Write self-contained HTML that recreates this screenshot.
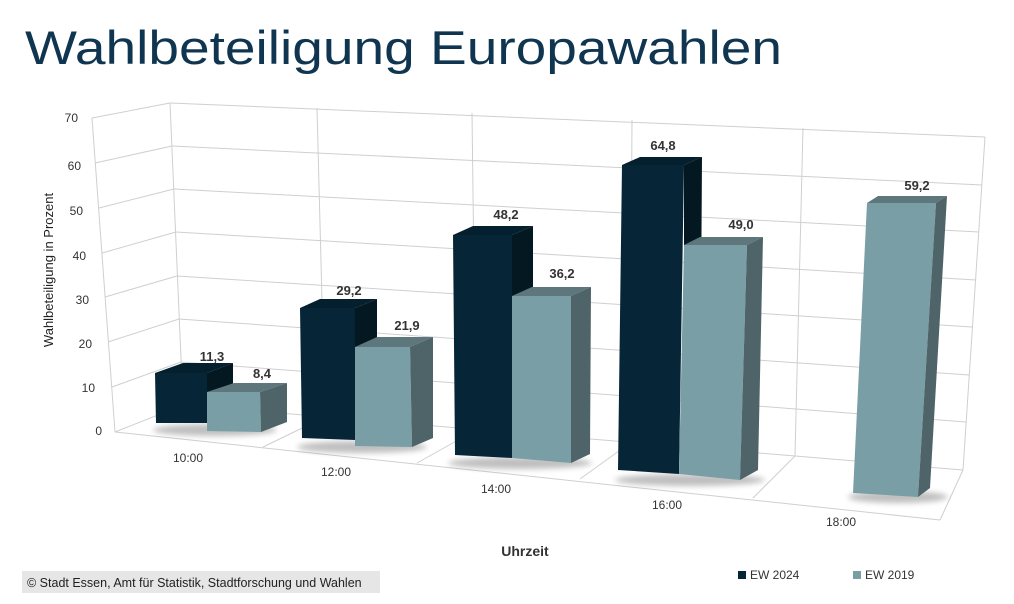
<!DOCTYPE html>
<html><head><meta charset="utf-8"><style>
html,body{margin:0;padding:0;background:#fff;width:1014px;height:604px;overflow:hidden}
svg{display:block}
text{font-family:"Liberation Sans",sans-serif}
</style></head><body>
<svg width="1014" height="604" viewBox="0 0 1014 604">
<text x="25" y="64" font-size="47" fill="#0f3550" textLength="757" lengthAdjust="spacingAndGlyphs">Wahlbeteiligung Europawahlen</text>
<g stroke="#cfcfcf" stroke-width="1" fill="none">
<!-- back wall horizontal gridlines -->
<line x1="183" y1="405" x2="963" y2="470"/>
<line x1="181" y1="362" x2="966" y2="422"/>
<line x1="179" y1="319" x2="969" y2="375"/>
<line x1="177" y1="276" x2="972" y2="327"/>
<line x1="176" y1="232" x2="976" y2="280"/>
<line x1="174" y1="189" x2="979" y2="232"/>
<line x1="172" y1="146" x2="982" y2="185"/>
<line x1="170" y1="103" x2="985" y2="137"/>
<!-- left wall -->
<line x1="115" y1="432" x2="183" y2="405"/>
<line x1="112" y1="387" x2="181" y2="362"/>
<line x1="108" y1="342" x2="179" y2="319"/>
<line x1="105" y1="297" x2="177" y2="276"/>
<line x1="102" y1="253" x2="176" y2="232"/>
<line x1="99" y1="208" x2="174" y2="189"/>
<line x1="95" y1="163" x2="172" y2="146"/>
<line x1="92" y1="118" x2="170" y2="103"/>
<line x1="92" y1="118" x2="115" y2="432"/>
<line x1="170" y1="103" x2="183" y2="405"/>
<!-- back verticals -->
<line x1="317" y1="108" x2="325" y2="417"/>
<line x1="472" y1="113" x2="476" y2="430"/>
<line x1="632" y1="120" x2="630" y2="443"/>
<line x1="803" y1="128" x2="795" y2="456"/>
<line x1="985" y1="137" x2="963" y2="470"/>
<!-- floor -->
<line x1="115" y1="432" x2="940" y2="520"/>
<line x1="263" y1="447" x2="325" y2="417"/>
<line x1="417" y1="463" x2="476" y2="430"/>
<line x1="580" y1="479" x2="630" y2="443"/>
<line x1="753" y1="498" x2="795" y2="456"/>
<line x1="940" y1="520" x2="963" y2="470"/>
</g>
<defs><filter id="sh" x="-20%" y="-50%" width="140%" height="200%"><feGaussianBlur stdDeviation="3"/></filter></defs>
<g fill="#000" opacity="0.25" filter="url(#sh)">
<ellipse cx="215" cy="430" rx="62" ry="6"/>
<ellipse cx="362" cy="447" rx="65" ry="6"/>
<ellipse cx="520" cy="463" rx="72" ry="6"/>
<ellipse cx="690" cy="480" rx="75" ry="6"/>
<ellipse cx="898" cy="497" rx="50" ry="6"/>
</g>
<!-- bars: front, top, side -->
<g>
<!-- 10:00 dark -->
<polygon points="155,373 207,373 207,423 156,423" fill="#062638"/>
<polygon points="155,373 207,373 233,363 183,363" fill="#04202e"/>
<polygon points="207,373 233,363 233,414 207,423" fill="#031820"/>
<!-- 10:00 light -->
<polygon points="207,392 260,392 261,432 207,431" fill="#7a9ea5"/>
<polygon points="207,392 260,392 287,383 234,383" fill="#5e777c"/>
<polygon points="260,392 287,383 287,422 261,432" fill="#4f6468"/>
<!-- 12:00 dark -->
<polygon points="300,308 355,308 355,440 302,438" fill="#062638"/>
<polygon points="300,308 355,308 377,299 320,299" fill="#04202e"/>
<polygon points="355,308 377,299 377,432 355,440" fill="#031820"/>
<!-- 12:00 light -->
<polygon points="355,347 410,347 412,447 355,446" fill="#7a9ea5"/>
<polygon points="355,347 410,347 433,337 377,337" fill="#5e777c"/>
<polygon points="410,347 433,337 433,438 412,447" fill="#4f6468"/>
<!-- 14:00 dark -->
<polygon points="453,235 512,235 512,458 455,455" fill="#062638"/>
<polygon points="453,235 512,235 533,226 473,226" fill="#04202e"/>
<polygon points="512,235 533,226 533,450 512,458" fill="#031820"/>
<!-- 14:00 light -->
<polygon points="512,296 571,296 571,463 512,458" fill="#7a9ea5"/>
<polygon points="512,296 571,296 591,287 532,287" fill="#5e777c"/>
<polygon points="571,296 591,287 590,454 571,463" fill="#4f6468"/>
<!-- 16:00 dark -->
<polygon points="622,165 684,165 679,474 618,470" fill="#062638"/>
<polygon points="622,165 684,165 702,157 640,157" fill="#04202e"/>
<polygon points="684,165 702,157 700,466 684,474" fill="#031820"/>
<!-- 16:00 light -->
<polygon points="684,245 747,245 740,480 679,474" fill="#7a9ea5"/>
<polygon points="684,245 747,245 763,237 700,237" fill="#5e777c"/>
<polygon points="747,245 763,237 758,470 740,480" fill="#4f6468"/>
<!-- 18:00 light -->
<polygon points="867,203 936,203 918,497 853,493" fill="#7a9ea5"/>
<polygon points="867,203 936,203 947,196 878,196" fill="#5e777c"/>
<polygon points="936,203 947,196 930,488 918,497" fill="#4f6468"/>
</g>
<g font-size="13" font-weight="bold" fill="#333" text-anchor="middle">
<text x="212" y="361">11,3</text>
<text x="262" y="378">8,4</text>
<text x="349" y="295">29,2</text>
<text x="407" y="330">21,9</text>
<text x="506" y="219">48,2</text>
<text x="562" y="278">36,2</text>
<text x="663" y="150">64,8</text>
<text x="741" y="229">49,0</text>
<text x="917" y="190">59,2</text>
</g>
<g font-size="12" fill="#333" text-anchor="end">
<text x="78" y="122">70</text>
<text x="81" y="170">60</text>
<text x="83" y="215">50</text>
<text x="86" y="260">40</text>
<text x="89" y="304">30</text>
<text x="92" y="348">20</text>
<text x="95" y="392">10</text>
<text x="102" y="435">0</text>
</g>
<g font-size="12" fill="#333" text-anchor="middle">
<text x="188" y="462">10:00</text>
<text x="336" y="476">12:00</text>
<text x="496" y="493">14:00</text>
<text x="667" y="509">16:00</text>
<text x="841" y="526">18:00</text>
</g>
<text transform="translate(53,270) rotate(-90)" font-size="13" fill="#222" text-anchor="middle">Wahlbeteiligung in Prozent</text>
<text x="525" y="556" font-size="14" font-weight="bold" fill="#333" text-anchor="middle">Uhrzeit</text>
<rect x="22" y="571" width="358" height="22" fill="#e6e6e6"/>
<text x="27" y="587" font-size="12.5" fill="#222">© Stadt Essen, Amt für Statistik, Stadtforschung und Wahlen</text>
<rect x="738" y="571" width="8" height="8" fill="#062638"/>
<text x="750" y="579" font-size="12" fill="#333">EW 2024</text>
<rect x="853" y="571" width="8" height="8" fill="#7a9ea5"/>
<text x="865" y="579" font-size="12" fill="#333">EW 2019</text>
</svg>
</body></html>
